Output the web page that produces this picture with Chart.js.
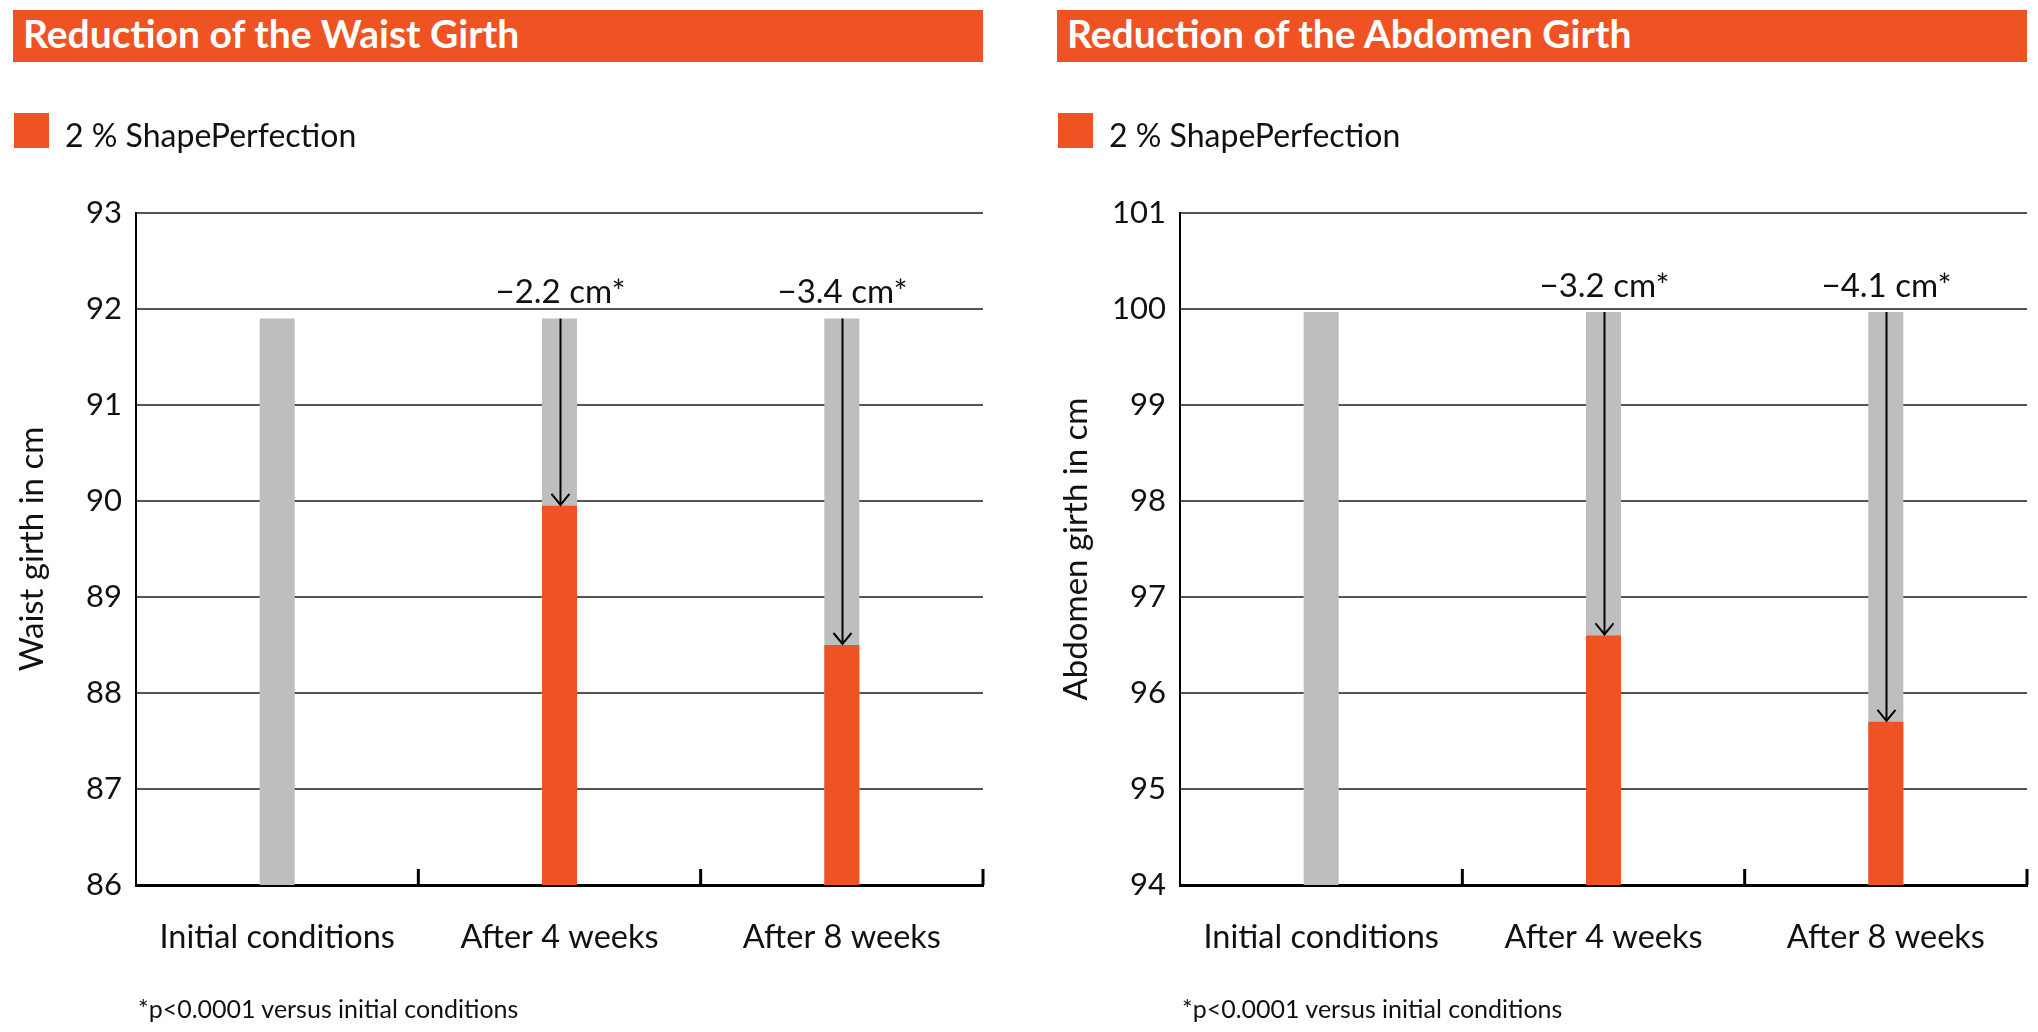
<!DOCTYPE html>
<html>
<head>
<meta charset="utf-8">
<script src="https://cdn.jsdelivr.net/npm/chart.js@4.4.1/dist/chart.umd.min.js"></script>
<style>
  body { margin: 0; width: 2038px; height: 1032px; background: #fff; position: relative; overflow: hidden; font-family: Lato, sans-serif; }
  .panel { position: absolute; top: 0; width: 972px; height: 1032px; }
  .panel canvas { position: absolute; left: 0; top: 0; }
  .head { position: absolute; left: 0; top: 10px; width: 970px; height: 52px; background: #f05323; color: #fff;
          font-weight: bold; font-size: 39px; line-height: 46px; padding-left: 10px; box-sizing: border-box; }
  .legend { position: absolute; left: 1px; top: 113px; height: 35px; font-size: 32px; line-height: 35px; color: #111; white-space: nowrap; }
  .legend i { display: inline-block; width: 35px; height: 35px; background: #f05323; vertical-align: top; margin-right: 16px; }
  .legend span { position: relative; top: 4px; }
  .note { position: absolute; left: 125px; top: 990px; font-size: 25px; line-height: 36px; color: #111; }
</style>
</head>
<body>
<div class="panel" style="left:13px">
  <canvas id="waist" width="972" height="1032"></canvas>
  <div class="head">Reduction of the Waist Girth</div>
  <div class="legend"><i></i><span>2 % ShapePerfection</span></div>
  <div class="note">*p&lt;0.0001 versus initial conditions</div>
</div>
<div class="panel" style="left:1057px">
  <canvas id="abdomen" width="972" height="1032"></canvas>
  <div class="head">Reduction of the Abdomen Girth</div>
  <div class="legend"><i></i><span>2 % ShapePerfection</span></div>
  <div class="note">*p&lt;0.0001 versus initial conditions</div>
</div>
<script>
const categories = ['Initial conditions', 'After 4 weeks', 'After 8 weeks'];

const waistInitial = [91.9, 91.9, 91.9];
const waistShape = [null, 89.95, 88.5];
const waistDelta = ['', '\u22122.2 cm*', '\u22123.4 cm*'];
const waistRange = [86, 93];

const abdomenInitial = [99.97, 99.97, 99.97];
const abdomenShape = [null, 96.6, 95.7];
const abdomenDelta = ['', '\u22123.2 cm*', '\u22124.1 cm*'];
const abdomenRange = [94, 101];

const orange = '#f05323';
const grey = '#bdbec0';

Chart.defaults.font.family = 'Lato, sans-serif';
Chart.defaults.color = '#111';

// arrows from the initial value down to the new one, plus the small category ticks
const arrows = {
  id: 'arrows',
  afterDatasetsDraw(chart, args, opts) {
    const {ctx, chartArea} = chart;
    const x = chart.scales.x, y = chart.scales.y;
    const to = chart.data.datasets[0].data;
    const from = chart.data.datasets[1].data;
    ctx.save();
    ctx.strokeStyle = '#000';
    ctx.lineWidth = 3;
    const n = chart.data.labels.length;
    for (let i = 1; i <= n; i++) {
      const px = x.left + x.width * i / n;
      ctx.beginPath();
      ctx.moveTo(px, chartArea.bottom);
      ctx.lineTo(px, chartArea.bottom - 16);
      ctx.stroke();
    }
    ctx.lineWidth = 2;
    ctx.fillStyle = '#111';
    ctx.font = '33px Lato, sans-serif';
    ctx.textAlign = 'center';
    ctx.textBaseline = 'middle';
    to.forEach((v, i) => {
      if (v == null) return;
      const px = Math.round(x.getPixelForValue(i)) + 0.5;
      const y0 = y.getPixelForValue(from[i]);
      const y1 = y.getPixelForValue(v);
      ctx.beginPath();
      ctx.moveTo(px, y0);
      ctx.lineTo(px, y1 - 1);
      ctx.stroke();
      ctx.beginPath();
      ctx.moveTo(px - 9, y1 - 12);
      ctx.lineTo(px, y1 - 1);
      ctx.lineTo(px + 9, y1 - 12);
      ctx.stroke();
      ctx.fillText(opts.labels[i], px, y0 - 26);
    });
    ctx.restore();
  }
};

function makeChart(id, initial, shape, deltas, range, yTitle) {
  return new Chart(document.getElementById(id), {
    type: 'bar',
    data: {
      labels: categories,
      datasets: [
        { label: '2 % ShapePerfection', data: shape, backgroundColor: orange, grouped: false,
          barPercentage: 0.124, categoryPercentage: 1 },
        { label: 'Initial', data: initial, backgroundColor: grey, grouped: false,
          barPercentage: 0.124, categoryPercentage: 1 }
      ]
    },
    options: {
      responsive: false,
      animation: false,
      layout: { padding: { top: 213, right: 2, left: 0, bottom: 0 } },
      plugins: {
        legend: { display: false },
        tooltip: { enabled: false },
        arrows: { labels: deltas }
      },
      scales: {
        x: {
          z: 1,
          grid: { display: false, drawTicks: false },
          border: { color: '#000', width: 3 },
          ticks: { font: { size: 32.5 }, color: '#111', padding: 33 },
          afterFit: s => { s.height = 147; }
        },
        y: {
          min: range[0], max: range[1],
          grid: { color: '#555', lineWidth: 2, drawTicks: false },
          border: { color: '#000', width: 2 },
          ticks: { stepSize: 1, font: { size: 31 }, color: '#111', padding: 14 },
          title: { display: true, text: yTitle, font: { size: 33, lineHeight: 1 }, color: '#111', padding: { top: 3, bottom: 0 } },
          afterFit: s => { s.width = 123; }
        }
      }
    },
    plugins: [arrows]
  });
}

makeChart('waist', waistInitial, waistShape, waistDelta, waistRange, 'Waist girth in cm');
makeChart('abdomen', abdomenInitial, abdomenShape, abdomenDelta, abdomenRange, 'Abdomen girth in cm');
</script>
</body>
</html>
